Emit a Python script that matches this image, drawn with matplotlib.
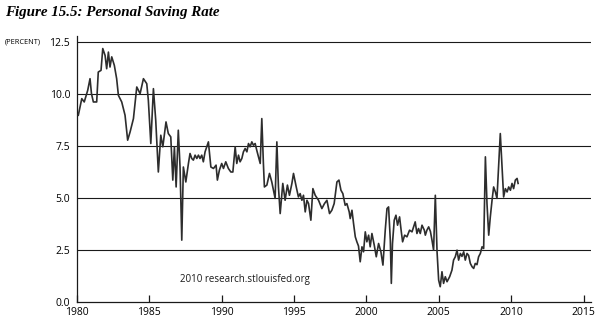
import matplotlib
matplotlib.use("Agg")
import matplotlib.pyplot as plt
import numpy as np

# Personal saving rate (percent)
years = [
    1980.09, 1980.33, 1980.50, 1980.74, 1980.90, 1981.00, 1981.13, 1981.36, 1981.47, 1981.66,
    1981.78, 1981.94, 1982.05, 1982.17, 1982.28, 1982.40, 1982.58, 1982.74, 1982.86, 1983.09,
    1983.32, 1983.50, 1983.67, 1983.90, 1984.13, 1984.36, 1984.59, 1984.82, 1984.93, 1985.10,
    1985.28, 1985.44, 1985.62, 1985.79, 1985.93, 1986.15, 1986.31, 1986.48, 1986.62, 1986.73,
    1986.85, 1987.00, 1987.12, 1987.24, 1987.35, 1987.52, 1987.70, 1987.81, 1987.93, 1988.04,
    1988.16, 1988.28, 1988.39, 1988.50, 1988.62, 1988.73, 1988.85, 1989.08, 1989.25, 1989.43,
    1989.61, 1989.70, 1989.84, 1990.00, 1990.12, 1990.28, 1990.46, 1990.63, 1990.77, 1990.93,
    1991.04, 1991.16, 1991.27, 1991.39, 1991.50, 1991.62, 1991.74, 1991.85, 1991.96, 1992.08,
    1992.19, 1992.31, 1992.42, 1992.54, 1992.66, 1992.77, 1992.88, 1992.95, 1993.12, 1993.30,
    1993.46, 1993.69, 1993.81, 1993.92, 1994.04, 1994.22, 1994.38, 1994.54, 1994.68, 1994.85,
    1994.96, 1995.15, 1995.30, 1995.42, 1995.54, 1995.65, 1995.77, 1995.89, 1996.00, 1996.16,
    1996.30, 1996.46, 1996.69, 1996.92, 1997.10, 1997.27, 1997.45, 1997.61, 1997.77, 1997.96,
    1998.10, 1998.24, 1998.37, 1998.53, 1998.65, 1998.81, 1998.88, 1999.00, 1999.11, 1999.23,
    1999.34, 1999.45, 1999.57, 1999.69, 1999.80, 1999.92, 2000.03, 2000.15, 2000.26, 2000.38,
    2000.54, 2000.68, 2000.84, 2001.00, 2001.14, 2001.30, 2001.42, 2001.53, 2001.65, 2001.72,
    2001.80, 2001.92, 2002.04, 2002.15, 2002.29, 2002.41, 2002.50, 2002.64, 2002.80, 2002.98,
    2003.15, 2003.26, 2003.37, 2003.49, 2003.60, 2003.72, 2003.84, 2004.00, 2004.07, 2004.18,
    2004.30, 2004.42, 2004.53, 2004.64, 2004.76, 2004.88, 2004.99, 2005.10, 2005.22, 2005.33,
    2005.45, 2005.57, 2005.75, 2005.91, 2006.02, 2006.14, 2006.26, 2006.37, 2006.49, 2006.60,
    2006.72, 2006.83, 2006.95, 2007.06, 2007.18, 2007.30, 2007.41, 2007.52, 2007.64, 2007.75,
    2007.87, 2007.99, 2008.10, 2008.22, 2008.33, 2008.45, 2008.56, 2008.68, 2008.79, 2008.91,
    2009.02, 2009.14, 2009.25, 2009.48, 2009.60, 2009.72, 2009.83, 2009.95, 2010.06, 2010.17,
    2010.29, 2010.41, 2010.48,
]
saving_rate = [
    8.99, 9.79, 9.63, 10.19, 10.75, 10.03, 9.63, 9.63, 11.07, 11.15,
    12.20, 11.87, 11.23, 12.03, 11.31, 11.80, 11.39, 10.75, 9.95, 9.63,
    8.99, 7.79, 8.19, 8.83, 10.35, 10.03, 10.75, 10.51, 9.71, 7.63,
    10.27, 8.75, 6.26, 8.03, 7.47, 8.67, 8.11, 7.95, 5.87, 7.47,
    5.54, 8.27, 6.50, 2.98, 6.50, 5.78, 6.67, 7.15, 6.91, 6.83,
    7.07, 6.91, 7.07, 6.91, 7.07, 6.75, 7.23, 7.71, 6.50, 6.43,
    6.59, 5.87, 6.35, 6.67, 6.43, 6.75, 6.43, 6.26, 6.26, 7.47,
    6.67, 7.07, 6.75, 6.91, 7.23, 7.39, 7.23, 7.63, 7.47, 7.71,
    7.55, 7.63, 7.31, 6.99, 6.67, 8.83, 6.67, 5.54, 5.63, 6.19,
    5.78, 4.99, 7.71, 5.54, 4.26, 5.71, 4.90, 5.63, 5.14, 5.71,
    6.19, 5.54, 5.06, 5.22, 4.90, 5.14, 4.34, 4.90, 4.74, 3.94,
    5.46, 5.14, 4.90, 4.50, 4.74, 4.90, 4.26, 4.42, 4.74, 5.78,
    5.87, 5.38, 5.22, 4.66, 4.74, 4.34, 4.02, 4.42, 3.78, 3.14,
    2.90, 2.70, 1.94, 2.66, 2.42, 3.38, 2.90, 3.22, 2.66, 3.30,
    2.74, 2.18, 2.82, 2.42, 1.78, 3.46, 4.50, 4.58, 2.98, 0.90,
    2.82, 3.94, 4.18, 3.70, 4.10, 3.38, 2.90, 3.22, 3.14, 3.46,
    3.38, 3.62, 3.86, 3.30, 3.54, 3.30, 3.70, 3.46, 3.22, 3.46,
    3.62, 3.40, 2.98, 2.50, 5.14, 2.42, 1.06, 0.74, 1.46, 0.90,
    1.22, 0.98, 1.22, 1.54, 2.02, 2.18, 2.50, 2.02, 2.34, 2.20,
    2.42, 2.02, 2.34, 2.25, 1.86, 1.70, 1.62, 1.86, 1.80, 2.18,
    2.34, 2.66, 2.58, 6.99, 4.74, 3.22, 4.10, 4.90, 5.54, 5.30,
    4.99, 6.60, 8.11, 5.06, 5.46, 5.30, 5.54, 5.38, 5.71, 5.46,
    5.87, 5.95, 5.71,
]

x_ticks = [1980, 1985, 1990, 1995, 2000, 2005, 2010, 2015]
y_ticks = [0.0, 2.5, 5.0, 7.5, 10.0, 12.5]
y_tick_labels = ["0.0", "2.5", "5.0", "7.5", "10.0", "12.5"]

fig = plt.figure(figsize=(6.16, 3.28), dpi=100)
ax = fig.add_axes([0.125, 0.079, 0.834, 0.811])

for yv in y_ticks[1:]:
    ax.axhline(yv, color="#1a1a1a", lw=0.8, zorder=1)

ax.plot(years, saving_rate, color="#2d2d2d", lw=1.2, zorder=3)

ax.set_xlim(1980, 2015.5)
ax.set_ylim(0, 12.8)
ax.set_xticks(x_ticks)
ax.set_xticklabels([str(t) for t in x_ticks], fontfamily="Open Sans", fontsize=7.5)
ax.set_yticks(y_ticks)
ax.set_yticklabels(y_tick_labels, fontfamily="Open Sans", fontsize=7.5)
ax.tick_params(axis="x", direction="in", length=5, width=0.9, pad=3.5, color="#1a1a1a")
ax.tick_params(axis="y", length=0, pad=5)
for s in ["top", "right"]:
    ax.spines[s].set_visible(False)
for s in ["left", "bottom"]:
    ax.spines[s].set_color("#1a1a1a")
    ax.spines[s].set_linewidth(0.9)

fig.text(0.008, 0.962, "Figure 15.5: Personal Saving Rate", fontfamily="Liberation Serif",
         fontstyle="italic", fontweight="bold", fontsize=10.8, va="center", ha="left")
fig.text(0.008, 0.872, "(PERCENT)", fontfamily="Open Sans", fontsize=5.3, va="center", ha="left")
ax.text(1991.6, 1.1, "2010 research.stlouisfed.org", fontfamily="Open Sans", fontsize=7,
        ha="center", va="center", color="#1a1a1a")

fig.savefig("out.png", dpi=100)
